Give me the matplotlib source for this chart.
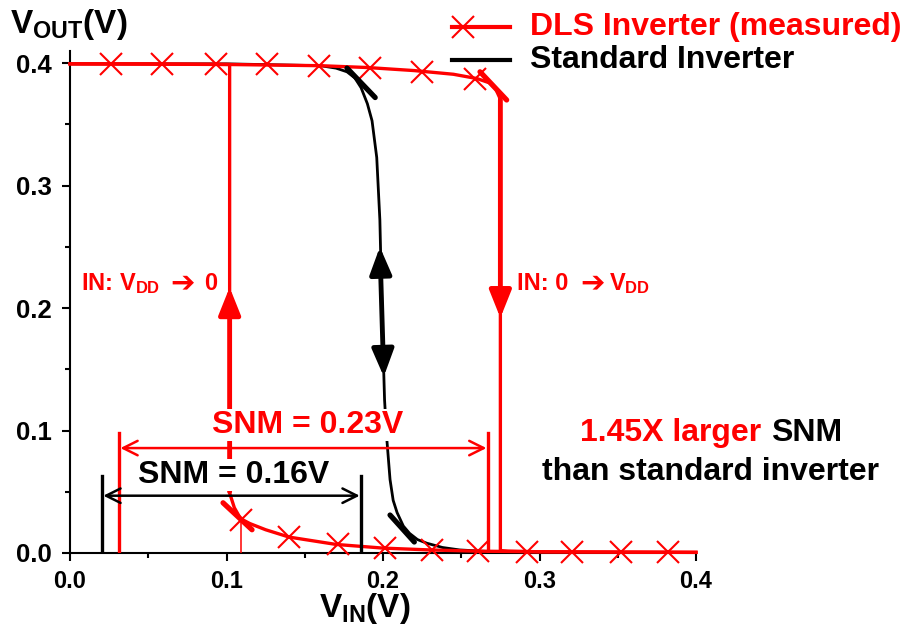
import matplotlib
matplotlib.use('Agg')
import matplotlib.pyplot as plt
from matplotlib.lines import Line2D

# figure size in pixels (dpi 100)
W, H = 908, 632

plt.rcParams['font.family'] = ['Liberation Sans', 'DejaVu Sans']
plt.rcParams['font.weight'] = 'bold'
plt.rcParams['mathtext.fontset'] = 'custom'
plt.rcParams['mathtext.rm'] = 'Liberation Sans:bold'
plt.rcParams['mathtext.bf'] = 'Liberation Sans:bold'
plt.rcParams['mathtext.it'] = 'Liberation Sans:bold'

# DLS inverter, sweep IN: 0 -> VDD
dls_up_x = [0.0, 0.10, 0.16, 0.19, 0.22, 0.245, 0.26, 0.268, 0.272, 0.2745, 0.275, 0.275,
            0.28, 0.30, 0.35, 0.40]
dls_up_y = [0.3995, 0.399, 0.398, 0.3965, 0.394, 0.391, 0.3875, 0.384, 0.379, 0.372, 0.36, 0.002,
            0.0015, 0.001, 0.0008, 0.0006]

# DLS inverter, sweep IN: VDD -> 0
dls_dn_x = [0.40, 0.35, 0.30, 0.26, 0.23, 0.20, 0.17, 0.14, 0.125, 0.115, 0.109, 0.105, 0.102,
            0.102, 0.05, 0.0]
dls_dn_y = [0.0005, 0.0007, 0.001, 0.0015, 0.0025, 0.004, 0.007, 0.013, 0.019, 0.024, 0.028, 0.037, 0.049,
            0.399, 0.3995, 0.3995]

# measured points (markers)
meas_x = [0.026, 0.059, 0.093, 0.126, 0.159, 0.192, 0.225, 0.259,
          0.109, 0.140, 0.171, 0.201, 0.231, 0.261, 0.292, 0.321, 0.352, 0.382]
meas_y = [0.3995, 0.3995, 0.399, 0.399, 0.398, 0.396, 0.393, 0.387,
          0.027, 0.013, 0.007, 0.004, 0.0025, 0.0015, 0.001, 0.001, 0.0008, 0.0006]

# standard inverter
std_x = [0.0, 0.10, 0.16, 0.170, 0.177, 0.182, 0.186, 0.190, 0.193, 0.196, 0.198, 0.1995, 0.201,
         0.2025, 0.2045, 0.2065, 0.209, 0.213, 0.217, 0.222, 0.228, 0.238, 0.249, 0.27]
std_y = [0.3995, 0.3995, 0.398, 0.396, 0.393, 0.388, 0.380, 0.367, 0.353, 0.323, 0.272, 0.19, 0.125,
         0.092, 0.06, 0.043, 0.033, 0.022, 0.016, 0.011, 0.008, 0.0045, 0.0025, 0.001]

# SNM markers: (left edge, right edge, bar height, arrow height)
snm_dls = (0.0313, 0.267, 0.098, 0.0857)
snm_std = (0.0204, 0.186, 0.063, 0.0468)

# short thick strokes on the curve bends
bend_marks = [((0.177, 0.396), (0.195, 0.372), 'black'),
              ((0.262, 0.393), (0.279, 0.370), 'red'),
              ((0.2045, 0.031), (0.220, 0.009), 'black'),
              ((0.0978, 0.041), (0.1163, 0.019), 'red')]

xticks = [0.0, 0.1, 0.2, 0.3, 0.4]
yticks = [0.0, 0.1, 0.2, 0.3, 0.4]
tick_labels = ['0.0', '0.1', '0.2', '0.3', '0.4']


def px(x, y):
    return x / W, 1 - y / H


fig = plt.figure(figsize=(W / 100, H / 100), dpi=100)
ax = fig.add_axes([70 / W, 1 - 553 / H, 626 / W, 502 / H])

ax.plot(std_x, std_y, color='black', lw=2.0, zorder=2, clip_on=False)
ax.plot(dls_up_x, dls_up_y, color='red', lw=2.4, zorder=3, clip_on=False)
ax.plot(dls_dn_x, dls_dn_y, color='red', lw=2.4, zorder=3, clip_on=False)
ax.plot(meas_x, meas_y, ls='none', marker='x', ms=16, mew=1.5, color='red', zorder=4, clip_on=False)
# drop line under the first low point
ax.plot([0.109, 0.109], [0.0, 0.027], color='red', lw=1.1, zorder=3)

for (x0, y0), (x1, y1), c in bend_marks:
    ax.plot([x0, x1], [y0, y1], color=c, lw=3.8, solid_capstyle='round', zorder=5)

# direction arrows on the transitions
head = '-|>,head_length=0.55,head_width=0.22'
ax.annotate('', xy=(0.102, 0.217), xytext=(0.102, 0.05),
            arrowprops=dict(arrowstyle=head, color='red', lw=3.5, mutation_scale=30,
                            shrinkA=0, shrinkB=0), zorder=5)
ax.annotate('', xy=(0.275, 0.192), xytext=(0.275, 0.37),
            arrowprops=dict(arrowstyle=head, color='red', lw=3.5, mutation_scale=30,
                            shrinkA=0, shrinkB=0), zorder=5)
ax.annotate('', xy=(0.198, 0.25), xytext=(0.2005, 0.144),
            arrowprops=dict(arrowstyle='<|-|>,head_length=0.55,head_width=0.22', color='black', lw=3.5,
                            mutation_scale=30, shrinkA=0, shrinkB=0), zorder=5)

# SNM brackets
for (xl, xr, hb, ha_), c in [(snm_dls, 'red'), (snm_std, 'black')]:
    ax.plot([xl, xl], [0, hb], color=c, lw=2.4, zorder=6)
    ax.plot([xr, xr], [0, hb], color=c, lw=2.4, zorder=6)
    ax.annotate('', xy=(xl, ha_), xytext=(xr, ha_),
                arrowprops=dict(arrowstyle='<->', color=c, lw=1.8, mutation_scale=26,
                                shrinkA=1, shrinkB=1), zorder=6)

ax.text(0.152, 0.1045, 'SNM = 0.23V', color='red', fontsize=23, fontweight='bold',
        ha='center', va='center', zorder=7,
        bbox=dict(facecolor='white', edgecolor='none', pad=1))
ax.text(0.1048, 0.0637, 'SNM = 0.16V', color='black', fontsize=23, fontweight='bold',
        ha='center', va='center', zorder=7,
        bbox=dict(facecolor='white', edgecolor='none', pad=1))

ax.set_xlim(0, 0.4)
ax.set_ylim(0, 0.41)
ax.set_xticks(xticks)
ax.set_xticklabels(tick_labels, fontsize=17, fontweight='bold')
ax.set_yticks(yticks)
ax.set_yticklabels(tick_labels, fontsize=18.5, fontweight='bold')
ax.set_xticks([0.05, 0.15, 0.25, 0.35], minor=True)
ax.set_yticks([0.05, 0.15, 0.25, 0.35], minor=True)
ax.tick_params(which='major', direction='out', length=6, width=1.5)
ax.tick_params(which='minor', direction='out', length=3.6, width=1.5)
ax.tick_params(axis='x', pad=6)
ax.tick_params(axis='y', pad=7)
for s in ['top', 'right']:
    ax.spines[s].set_visible(False)
for s in ['left', 'bottom']:
    ax.spines[s].set_linewidth(1.5)

# axis titles
fig.text(*px(10, 33), r'V$_{\mathrm{OUT}}$(V)', fontsize=24, fontweight='bold', va='baseline', ha='left')
fig.text(*px(319, 617), r'V$_{\mathrm{IN}}$(V)', fontsize=24, fontweight='bold', va='baseline', ha='left')

# legend
fig.add_artist(Line2D([452 / W, 510 / W], [1 - 27 / H, 1 - 27 / H], color='red', lw=3))
fig.add_artist(Line2D([463 / W], [1 - 27 / H], color='red', marker='x', ms=16, mew=1.5))
fig.add_artist(Line2D([452 / W, 510 / W], [1 - 60 / H, 1 - 60 / H], color='black', lw=3))
fig.text(*px(530, 27), 'DLS Inverter (measured)', color='red', fontsize=23, fontweight='bold', va='center')
fig.text(*px(530, 60), 'Standard Inverter', color='black', fontsize=23, fontweight='bold', va='center')

# sweep direction labels (arrow glyph drawn separately so DejaVu can supply it)
sweep_kw = dict(color='red', fontweight='bold', va='baseline')
fig.text(*px(81, 290), r'IN: V$_{\mathrm{DD}}$', fontsize=17, **sweep_kw)
fig.text(*px(170, 291), '➔', family='DejaVu Sans', fontsize=21, **sweep_kw)
fig.text(*px(204, 290), '0', fontsize=17, **sweep_kw)
fig.text(*px(517, 290), 'IN: 0', fontsize=17, **sweep_kw)
fig.text(*px(580, 291), '➔', family='DejaVu Sans', fontsize=21, **sweep_kw)
fig.text(*px(609, 290), r'V$_{\mathrm{DD}}$', fontsize=17, **sweep_kw)

# comparison note
snm_word = fig.text(*px(842, 433), 'SNM', color='black', fontsize=23, fontweight='bold',
                    ha='right', va='center')
ax.annotate('1.45X larger', xy=(0, 0), xycoords=snm_word, xytext=(-7, 0), textcoords='offset points',
            color='red', fontsize=23, fontweight='bold', ha='right', va='bottom', annotation_clip=False)
fig.text(*px(711, 472), 'than standard inverter', color='black', fontsize=23, fontweight='bold',
         ha='center', va='center')

fig.savefig('out.png', dpi=100)
